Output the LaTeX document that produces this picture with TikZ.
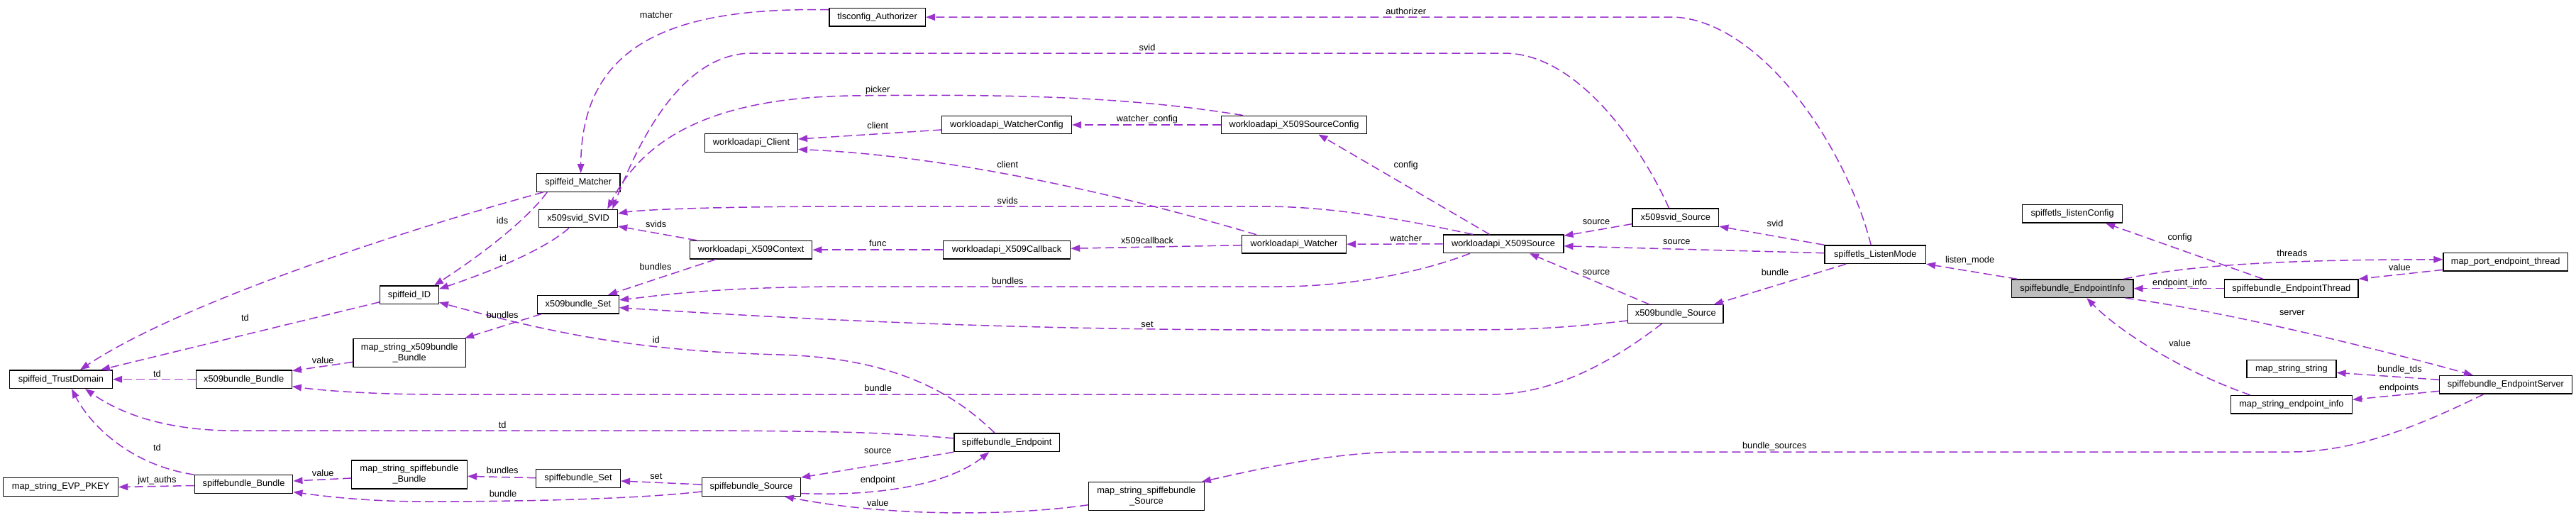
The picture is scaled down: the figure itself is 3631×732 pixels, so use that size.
\documentclass[tikz,border=0pt]{standalone}
\usepackage{fontspec}
\setmainfont{Liberation Sans}
\usetikzlibrary{arrows.meta,calc}
\definecolor{edgec}{HTML}{9A32CD}
\definecolor{rootfill}{HTML}{BFBFBF}
\begin{document}
\begin{tikzpicture}[x=1pt,y=-1pt,
  font=\fontsize{12.8}{15}\selectfont,
  cls/.style={draw=black, line width=1.4pt, fill=white, inner sep=0pt, minimum height=25.5pt, align=center},
  cls2/.style={cls, minimum height=40pt},
  rootcls/.style={cls, fill=rootfill},
  dep/.style={draw=edgec, line width=1.5pt, dash pattern=on 12pt off 6pt, -{Triangle[length=13pt,width=9.5pt]}},
  lab/.style={inner sep=0pt, anchor=center}
]
\fill[white] (0,0) rectangle (3631,732);
\useasboundingbox (0,0) rectangle (3631,732);

% nodes
\node[cls, minimum width=135.5pt] (auth) at (1236.6,24.2) {tlsconfig\_Authorizer};
\node[cls, minimum width=117.5pt] (matcher) at (815.2,257.5) {spiffeid\_Matcher};
\node[cls, minimum width=111pt] (svid) at (815,308) {x509svid\_SVID};
\node[cls, minimum width=130.7pt] (client) at (1059,201.5) {workloadapi\_Client};
\node[cls, minimum width=172pt] (x5ctx) at (1058.7,352.2) {workloadapi\_X509Context};
\node[cls, minimum width=182.8pt] (wcfg) at (1419,176) {workloadapi\_WatcherConfig};
\node[cls, minimum width=205.5pt] (x5scfg) at (1824,176) {workloadapi\_X509SourceConfig};
\node[cls, minimum width=179pt] (x5cb) at (1419,352.2) {workloadapi\_X509Callback};
\node[cls, minimum width=146.8pt] (watcher) at (1824,344.2) {workloadapi\_Watcher};
\node[cls, minimum width=169.6pt] (x5src) at (2119,343.8) {workloadapi\_X509Source};
\node[cls, minimum width=121.6pt] (svsrc) at (2361.8,306.7) {x509svid\_Source};
\node[cls, minimum width=142.3pt] (lmode) at (2643.2,358.7) {spiffetls\_ListenMode};
\node[cls, minimum width=141.2pt] (lcfg) at (2921.1,301.3) {spiffetls\_listenConfig};
\node[cls, minimum width=175.3pt] (mpet) at (3531.7,369.3) {map\_port\_endpoint\_thread};
\node[cls, minimum width=82.6pt] (sid) at (577,415.8) {spiffeid\_ID};
\node[cls, minimum width=144.7pt] (tdom) at (86,534.7) {spiffeid\_TrustDomain};
\node[cls, minimum width=135pt] (xbb) at (343.7,534.7) {x509bundle\_Bundle};
\node[cls2, minimum width=158.4pt] (msxb) at (577.2,497.3) {map\_string\_x509bundle\\\_Bundle};
\node[cls, minimum width=161.8pt] (evp) at (85.6,686.5) {map\_string\_EVP\_PKEY};
\node[cls, minimum width=138.5pt] (sbb) at (343.5,682.5) {spiffebundle\_Bundle};
\node[cls2, minimum width=162.8pt] (mssb) at (577,669) {map\_string\_spiffebundle\\\_Bundle};
\node[cls, minimum width=114.7pt] (xbs) at (815,429.2) {x509bundle\_Set};
\node[cls, minimum width=118.7pt] (sbs) at (815,674.5) {spiffebundle\_Set};
\node[cls, minimum width=139pt] (sbsrc) at (1058.9,686.5) {spiffebundle\_Source};
\node[cls, minimum width=148.2pt] (sbep) at (1419.2,623.8) {spiffebundle\_Endpoint};
\node[cls2, minimum width=162.6pt] (mssrc) at (1615.9,699.7) {map\_string\_spiffebundle\\\_Source};
\node[cls, minimum width=134.7pt] (xbsrc) at (2361.8,442.5) {x509bundle\_Source};
\node[rootcls, minimum width=171.2pt] (info) at (2921.3,406.7) {spiffebundle\_EndpointInfo};
\node[cls, minimum width=188.2pt] (ethr) at (3229.8,406.7) {spiffebundle\_EndpointThread};
\node[cls, minimum width=125.9pt] (mss) at (3229.9,520) {map\_string\_string};
\node[cls, minimum width=186.7pt] (esrv) at (3531.9,542.3) {spiffebundle\_EndpointServer};
\node[cls, minimum width=171.1pt] (msei) at (3229.9,570.3) {map\_string\_endpoint\_info};

% edges
\draw[dep] ([yshift=-3pt]auth.north west) .. controls (950,10) and (820,60) .. ([xshift=3.4pt]matcher.north);
\draw[dep] ([xshift=-6pt]lmode.north) .. controls (2600,200) and (2480,30) .. (2360,24) -- (auth.east);
\draw[dep] ([xshift=-9.4pt]svsrc.north) .. controls (2320,220) and (2230,75) .. (2120,75) -- (1060,75) .. controls (960,75) and (900,200) .. ([xshift=-8pt]svid.north east);
\draw[dep] ([xshift=-72pt]x5scfg.north) .. controls (1600,138) and (1450,132) .. (1200,135) .. controls (980,138) and (900,210) .. ([xshift=-15pt]svid.north east);
\draw[dep] ([xshift=-43pt]x5src.north) .. controls (1980,310) and (1880,291) .. (1780,291) -- (1200,291) .. controls (1000,291) and (900,296) .. ([yshift=7pt]svid.east);
\draw[dep] ([xshift=10pt]x5ctx.north west) -- ([yshift=-11pt]svid.east);
\draw[dep] ([yshift=-7pt]wcfg.west) -- ([yshift=5.5pt]client.east);
\draw[dep] ([xshift=21pt]watcher.north west) .. controls (1600,280) and (1350,220) .. ([yshift=-9pt]client.east);
\draw[dep] (x5scfg.west) -- (wcfg.east);
\draw[dep] ([xshift=-19.4pt]x5src.north) -- ([xshift=34.4pt]x5scfg.south);
\draw[dep] (x5src.west) -- (watcher.east);
\draw[dep] ([yshift=-1.5pt]watcher.west) -- ([yshift=2pt]x5cb.east);
\draw[dep] (x5cb.west) -- (x5ctx.east);
\draw[dep] ([xshift=-50pt]x5ctx.south) -- ([xshift=42pt]xbs.north);
\draw[dep] ([xshift=-47pt]x5src.south) .. controls (2000,385) and (1900,404) .. (1800,404) -- (1200,404) .. controls (1000,404) and (920,418) .. ([yshift=6.5pt]xbs.east);
\draw[dep] ([yshift=-9pt]svsrc.west) -- ([yshift=-2pt]x5src.north east);
\draw[dep] ([yshift=2pt]lmode.west) -- ([yshift=-3pt]x5src.east);
\draw[dep] (lmode.north west) -- ([yshift=1pt]svsrc.south east);
\draw[dep] ([xshift=-41pt]lmode.south) -- ([xshift=54pt]xbsrc.north);
\draw[dep] ([xshift=-37pt]xbsrc.north) -- ([xshift=37pt]x5src.south);
\draw[dep] ([yshift=-9.5pt]xbsrc.west) .. controls (2200,463) and (2150,465) .. (2050,465) -- (1800,465) .. controls (1400,465) and (1100,448) .. ([yshift=-4.5pt]xbs.east);
\draw[dep] ([xshift=-19pt]xbsrc.south) .. controls (2260,520) and (2180,556) .. (2100,556) -- (620,556) .. controls (520,556) and (450,550) .. ([yshift=-10pt]xbb.east);
\draw[dep] ([xshift=-17pt]sbep.north) .. controls (1350,560) and (1270,505) .. (1100,500) .. controls (900,495) and (780,470) .. ([yshift=3pt]sid.south east);
\draw[dep] ([yshift=6pt]sbep.west) .. controls (1250,610) and (1200,608) .. (1000,607) -- (330,607) .. controls (250,607) and (180,590) .. ([xshift=34pt]tdom.south);
\draw[dep] (sbep.south west) -- (sbsrc.north east);
\draw[dep] ([yshift=-9pt]sbsrc.east) .. controls (1250,700) and (1340,680) .. ([xshift=-25pt]sbep.south);
\draw[dep] ([yshift=-12pt]mssrc.west) .. controls (1420,728) and (1250,728) .. ([xshift=47pt]sbsrc.south);
\draw[dep] ([yshift=3.5pt]sbsrc.west) -- ([yshift=-3.5pt]sbs.east);
\draw[dep] ([yshift=-6.5pt]sbsrc.west) .. controls (900,703) and (750,707) .. (600,707) .. controls (520,707) and (460,700) .. ([yshift=-11pt]sbb.east);
\draw[dep] ([yshift=0.8pt]sbs.west) -- ([yshift=-2.3pt]mssb.east);
\draw[dep] ([yshift=-5pt]mssb.west) -- ([yshift=4.5pt]sbb.east);
\draw[dep] ([yshift=-2pt]sbb.west) -- (evp.east);
\draw[dep] (sbb.north west) .. controls (180,655) and (125,595) .. ([xshift=15pt]tdom.south);
\draw[dep] (xbb.west) -- (tdom.east);
\draw[dep] ([yshift=-13pt]msxb.west) -- ([yshift=12pt]xbb.east);
\draw[dep] ([xshift=6pt]xbs.south west) -- ([xshift=-2pt]msxb.north east);
\draw[dep] ([yshift=-10pt]sid.west) -- ([xshift=56pt]tdom.north);
\draw[dep] ([xshift=-13pt]svid.south) .. controls (770,350) and (700,380) .. ([yshift=8.5pt]sid.east);
\draw[dep] ([xshift=-44pt]matcher.south) .. controls (750,300) and (700,345) .. ([xshift=-7pt]sid.north east);
\draw[dep] ([xshift=10pt]matcher.south west) .. controls (550,330) and (250,430) .. ([xshift=27pt]tdom.north);
\draw[dep] ([xshift=8pt]info.north west) -- (lmode.south east);
\draw[dep] ([xshift=-14pt]info.north east) .. controls (3080,375) and (3200,366) .. ([yshift=3.5pt]mpet.west);
\draw[dep] ([yshift=-11pt]mpet.west) -- (ethr.north east);
\draw[dep] (ethr.west) -- (info.east);
\draw[dep] ([xshift=-40pt]ethr.north) -- ([xshift=47pt]lcfg.south);
\draw[dep] ([xshift=-12pt]info.south east) .. controls (3150,440) and (3400,505) .. ([xshift=-46pt]esrv.north);
\draw[dep] ([xshift=-58pt]msei.north) .. controls (3080,525) and (2990,470) .. ([xshift=20pt]info.south);
\draw[dep] ([yshift=7pt]esrv.west) -- ([yshift=-5.3pt]mss.east);
\draw[dep] ([yshift=-9pt]esrv.west) -- ([yshift=7pt]msei.east);
\draw[dep] ([xshift=-31pt]esrv.south) .. controls (3430,590) and (3330,637) .. (3230,637) -- (1980,637) .. controls (1880,637) and (1780,660) .. ([xshift=-4pt]mssrc.north east);

% labels
\node[lab] (l1) at (925,20.7) {matcher};
\node[lab] (l2) at (1981.7,15.7) {authorizer};
\node[lab] (l3) at (1617,66.7) {svid};
\node[lab] (l4) at (1237.3,126.7) {picker};
\node[lab] (l5) at (1617,167.7) {watcher\_config};
\node[lab] (l6) at (1237.3,176.7) {client};
\node[lab] (l7) at (1420.2,231.7) {client};
\node[lab] (l8) at (1981.7,232.7) {config};
\node[lab] (l9) at (1420.2,282.7) {svids};
\node[lab] (l10) at (924.8,315.7) {svids};
\node[lab] (l11) at (708,310.7) {ids};
\node[lab] (l12) at (2250,312.7) {source};
\node[lab] (l13) at (2502,315.3) {svid};
\node[lab] (l14) at (1981.7,335.7) {watcher};
\node[lab] (l15) at (1617,338.7) {x509callback};
\node[lab] (l16) at (1237.3,343.3) {func};
\node[lab] (l17) at (2363.3,341) {source};
\node[lab] (l18) at (709,364) {id};
\node[lab] (l19) at (2776.6,367.5) {listen\_mode};
\node[lab] (l20) at (3072.6,335) {config};
\node[lab] (l21) at (3230.8,356.7) {threads};
\node[lab] (l22) at (3382.4,376.7) {value};
\node[lab] (l23) at (924,376.3) {bundles};
\node[lab] (l24) at (2250,384) {source};
\node[lab] (l25) at (2502,383.7) {bundle};
\node[lab] (l26) at (1420.2,395.7) {bundles};
\node[lab] (l27) at (3072.6,398.7) {endpoint\_info};
\node[lab] (l28) at (3230.8,441) {server};
\node[lab] (l29) at (345.5,447.7) {td};
\node[lab] (l30) at (708.2,444.3) {bundles};
\node[lab] (l31) at (1617,457) {set};
\node[lab] (l32) at (924.8,479.3) {id};
\node[lab] (l33) at (3072.6,483.7) {value};
\node[lab] (l34) at (455.2,507.7) {value};
\node[lab] (l35) at (3382.4,520.7) {bundle\_tds};
\node[lab] (l36) at (221.4,526.7) {td};
\node[lab] (l37) at (3381.6,546.7) {endpoints};
\node[lab] (l38) at (1237.7,547.3) {bundle};
\node[lab] (l39) at (708.2,598.7) {td};
\node[lab] (l40) at (2501.2,628.7) {bundle\_sources};
\node[lab] (l41) at (221.4,631.3) {td};
\node[lab] (l42) at (1237.3,636) {source};
\node[lab] (l43) at (708.2,662.7) {bundles};
\node[lab] (l44) at (455.2,666.7) {value};
\node[lab] (l45) at (924.8,671) {set};
\node[lab] (l46) at (1237.3,676.7) {endpoint};
\node[lab] (l47) at (221.4,676.7) {jwt\_auths};
\node[lab] (l48) at (709,696.3) {bundle};
\node[lab] (l49) at (1237.3,708.7) {value};
\end{tikzpicture}
\end{document}
